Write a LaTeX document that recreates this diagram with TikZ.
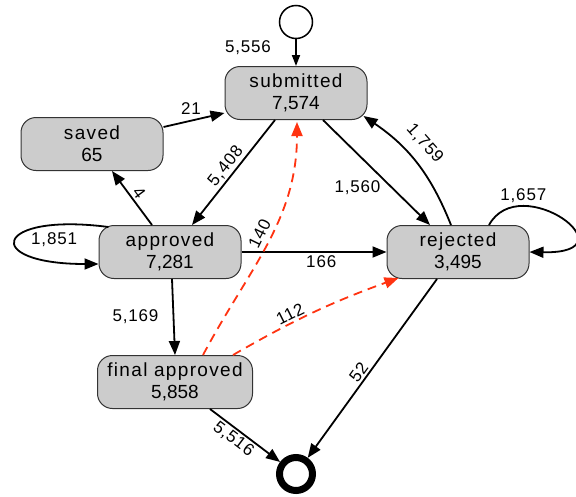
\documentclass[tikz,border=0pt]{standalone}
\usepackage{fontspec}
\setmainfont{Liberation Sans}
\newfontfamily\wordfont[LetterSpace=7]{Liberation Sans}
\newfontfamily\countfont[LetterSpace=5]{Liberation Sans}
\newcommand\statename[1]{{\wordfont #1}}
\usetikzlibrary{arrows.meta}
\definecolor{stategray}{HTML}{CCCCCC}
\definecolor{stateedge}{HTML}{333333}
\definecolor{devred}{HTML}{FF3311}

\begin{document}
\begin{tikzpicture}[x=1pt,y=-1pt,
  state/.style={draw=stateedge, line width=1pt, fill=stategray,
    rounded corners=15pt, minimum width=142pt, minimum height=53pt,
    align=center, font=\fontsize{19}{22}\selectfont, inner sep=0pt},
  flow/.style={line width=1.8pt, -{Triangle[length=14pt,width=11pt]}},
  deviation/.style={flow, draw=devred, dash pattern=on 9pt off 6pt},
  lbl/.style={font=\countfont\fontsize{17}{20}\selectfont, inner sep=1pt},
]
\useasboundingbox (0,0) rectangle (576,496);

% states
\node[state] (sub)   at (296,93)  {\statename{submitted}\\7,574};
\node[state] (saved) at (92,144)  {\statename{saved}\\65};
\node[state] (app)   at (170,252) {\statename{approved}\\7,281};
\node[state] (rej)   at (458,252) {\statename{rejected}\\3,495};
\node[state, minimum width=155pt] (fin) at (175,382) {\statename{final approved}\\5,858};
\node[draw, circle, line width=1.5pt, minimum size=33pt, inner sep=0pt] (start) at (296,22) {};
\node[draw, circle, line width=7pt, minimum size=33pt, inner sep=0pt] (end) at (296,474) {};

% regular transitions
\draw[flow, -{Triangle[length=11pt,width=8pt]}] (start) --
  node[lbl, pos=.5, xshift=-48pt, yshift=5pt] {5,556} (sub);
\draw[flow] ([yshift=17pt]saved.east) --
  node[lbl, pos=.45, yshift=12pt] {21} ([yshift=-20pt]sub.west);
\draw[flow] ([xshift=-21pt]sub.south) --
  node[lbl, midway, sloped, above=1pt] {5,408} ([xshift=22pt]app.north);
\draw[flow] ([xshift=-18pt]app.north) --
  node[lbl, midway, sloped, above=1pt] {4} ([xshift=20pt]saved.south);
\draw[flow] ([xshift=10pt,yshift=-2pt]app.north west)
  .. controls +(-115,-15) and +(-118,0) ..
  node[lbl, pos=.5, xshift=38pt] {1,851} ([yshift=-12pt]app.west);
\draw[flow] (app.east) --
  node[lbl, pos=.55, yshift=-10pt] {166} (rej.west);
\draw[flow] ([xshift=2pt]app.south) --
  node[lbl, midway, xshift=-38pt] {5,169} (fin.north);
\draw[flow] ([xshift=27pt]sub.south) --
  node[lbl, midway, xshift=-19pt, yshift=-15pt] {1,560} ([xshift=-28pt]rej.north);
\draw[flow] ([xshift=-7pt]rej.north) to[bend right=17]
  node[lbl, pos=.57, sloped, above=10pt] {1,759} ([xshift=-4pt,yshift=4pt]sub.south east);
\draw[flow] ([xshift=31pt]rej.north)
  .. controls +(31,-56) and +(106,2) ..
  node[lbl, pos=.25, yshift=10pt] {1,657} (rej.east);
\draw[flow] ([xshift=-21pt]rej.south) --
  node[lbl, pos=.55, sloped, above=1pt] {52} (end);
\draw[flow] ([xshift=35pt]fin.south) --
  node[lbl, pos=.42, sloped, below=1pt] {5,516} (end);

% deviating transitions
\draw[deviation] ([xshift=28pt]fin.north) to[out=62,in=-90]
  node[lbl, pos=.52, sloped, above=3pt] {140} ([xshift=1pt,yshift=-2pt]sub.south);
\draw[deviation] ([xshift=58pt]fin.north) to[bend left=5]
  node[lbl, pos=.37, sloped, above=1pt] {112} ([xshift=12pt,yshift=1pt]rej.south west);
\end{tikzpicture}
\end{document}
